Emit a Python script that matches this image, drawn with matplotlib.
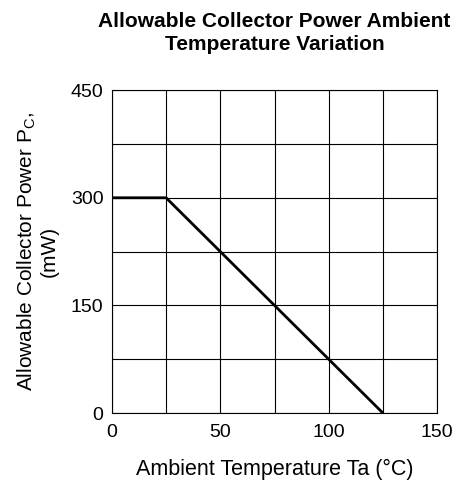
import matplotlib
matplotlib.use("Agg")
import matplotlib.pyplot as plt
from matplotlib.ticker import MultipleLocator

plt.rcParams['font.family'] = ['Liberation Sans', 'DejaVu Sans']
plt.rcParams['mathtext.fontset'] = 'custom'
plt.rcParams['mathtext.rm'] = 'Liberation Sans'

# derating curve
temp = [0, 25, 125]
power = [300, 300, 0]

x_ticks = [0, 50, 100, 150]
y_ticks = [0, 150, 300, 450]

fig = plt.figure(figsize=(4.53, 4.82), dpi=100)
ax = fig.add_axes([0.247, 0.143, 0.718, 0.670])

ax.plot(temp, power, color='black', lw=2, solid_capstyle='butt', zorder=3)

ax.set_xlim(0, 150)
ax.set_ylim(0, 450)
ax.set_xticks(x_ticks)
ax.set_yticks(y_ticks)
ax.xaxis.set_minor_locator(MultipleLocator(25))
ax.yaxis.set_minor_locator(MultipleLocator(75))
ax.grid(True, which='both', color='black', lw=0.8)
ax.tick_params(which='both', length=0, labelsize=14)
ax.tick_params(axis='x', pad=8)
ax.tick_params(axis='y', pad=6)
for s in ax.spines.values():
    s.set_linewidth(0.8)

ax.set_xlabel('Ambient Temperature Ta (°C)', fontsize=15.5, labelpad=13)
ax.set_ylabel('Allowable Collector Power P$_\\mathregular{C}$,\n(mW)', fontsize=15,
              labelpad=9, linespacing=1.1)
ax.set_title('Allowable Collector Power Ambient\nTemperature Variation',
             fontsize=15, fontweight='bold', pad=29, linespacing=1.25)

fig.savefig('out.png', dpi=100)
